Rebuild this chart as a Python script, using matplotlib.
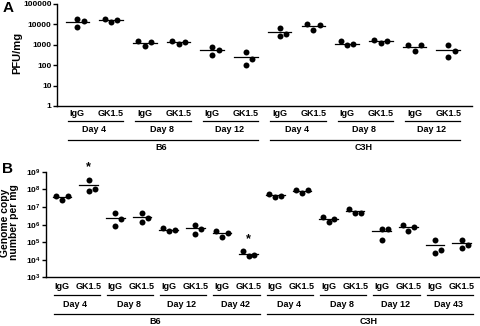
import numpy as np
import matplotlib.pyplot as plt

plt.rcParams['font.family'] = ['Liberation Sans', 'DejaVu Sans']
plt.rcParams['font.weight'] = 'bold'
plt.rcParams['mathtext.fontset'] = 'custom'
plt.rcParams['mathtext.rm'] = 'Liberation Sans:bold'
plt.rcParams['mathtext.bf'] = 'Liberation Sans:bold'
plt.rcParams['mathtext.it'] = 'Liberation Sans:bold'

treatments = ['IgG', 'GK1.5']
strains = ['B6', 'C3H']

# panel A: PFU/mg, 3 mice per group
days_a = {'B6': ['Day 4', 'Day 8', 'Day 12'], 'C3H': ['Day 4', 'Day 8', 'Day 12']}
pfu = [
    [18000, 7800, 15000], [18000, 13000, 16000],   # B6 day 4
    [1500, 900, 1300], [1600, 1050, 1300],         # B6 day 8
    [760, 310, 540], [430, 100, 210],              # B6 day 12
    [6900, 2600, 3200], [10500, 5500, 9100],       # C3H day 4
    [1450, 930, 1050], [1650, 1250, 1600],         # C3H day 8
    [980, 510, 930], [980, 260, 510],              # C3H day 12
]

# panel B: genome copies per mg
days_b = {'B6': ['Day 4', 'Day 8', 'Day 12', 'Day 42'],
          'C3H': ['Day 4', 'Day 8', 'Day 12', 'Day 43']}
copies = [
    [4.3e7, 2.4e7, 4.3e7], [3.4e8, 8.1e7, 1.1e8],  # B6 day 4
    [4.6e6, 8.1e5, 2.0e6], [4.6e6, 1.5e6, 2.3e6],  # B6 day 8
    [6.6e5, 4.1e5, 5.1e5], [9.8e5, 3.0e5, 5.9e5],  # B6 day 12
    [4.3e5, 2.1e5, 3.2e5], [3.1e4, 1.6e4, 2.0e4],  # B6 day 42
    [5.8e7, 3.7e7, 4.1e7], [9.8e7, 6.6e7, 8.9e7],  # C3H day 4
    [2.7e6, 1.5e6, 2.1e6], [8.1e6, 4.8e6, 4.8e6],  # C3H day 8
    [5.9e5, 5.4e5, 1.4e5], [1.0e6, 4.3e5, 7.2e5],  # C3H day 12
    [1.4e5, 2.3e4, 3.8e4], [1.4e5, 4.8e4, 7.1e4],  # C3H day 43
]
signif_b = [1, 7]  # groups marked with *

fig = plt.figure(figsize=(4.8, 3.26), dpi=100)
axA = fig.add_axes([0.119, 0.675, 0.864, 0.313])
axB = fig.add_axes([0.096, 0.149, 0.902, 0.324])


def swarm(ax, xc, vals, step, diam=7.0):
    # simple beeswarm: stack points at center, push colliding ones sideways
    ypx = ax.transData.transform(np.column_stack([np.full(len(vals), xc), vals]))[:, 1]
    slots = {}
    offs = np.zeros(len(vals))
    for i in np.argsort(ypx):
        for k in [0, 1, -1, 2, -2]:
            if all(abs(ypx[i] - ypx[j]) >= diam for j in slots.get(k, [])):
                break
        slots.setdefault(k, []).append(i)
        offs[i] = k
    return xc + offs * step


def draw_panel(ax, data, days, ylim, xmax, step, lo, hi, rows, fmt):
    ax.set_yscale('log')
    ax.set_ylim(*ylim)
    ax.set_xlim(0.4, xmax)
    dec = np.arange(int(np.log10(ylim[0])), int(np.log10(ylim[1])) + 1)
    ax.set_yticks(10.0 ** dec)
    ax.set_yticklabels([fmt(d) for d in dec])
    ax.yaxis.set_minor_locator(plt.NullLocator())
    ax.set_xticks([])
    for s in ['top', 'right']:
        ax.spines[s].set_visible(False)
    for s in ['left', 'bottom']:
        ax.spines[s].set_linewidth(1.0)
    ax.tick_params(axis='y', direction='out', length=3, width=1.0, labelsize=6, pad=1)
    fig.canvas.draw()

    for g, vals in enumerate(data):
        xc = g + 1
        xs = swarm(ax, xc, vals, step)
        ax.plot(xs, vals, 'o', color='k', ms=4.3, mew=0, clip_on=False)
        ax.plot([xc - 0.35, xc + 0.35], [np.mean(vals)] * 2, color='k', lw=0.9)

    tr = ax.get_xaxis_transform()
    kw = dict(transform=tr, ha='center', va='center', fontsize=6.5, fontweight='bold')
    pos = 1
    for strain in strains:
        start = pos
        for day in days[strain]:
            for t, name in enumerate(treatments):
                ax.text(pos + t, rows[0], name, **kw)
            ax.plot([pos - lo, pos + 1 + hi], [rows[1]] * 2, color='k', lw=0.9,
                    transform=tr, clip_on=False)
            ax.text(pos + 0.5, rows[2], day, **kw)
            pos += 2
        ax.plot([start - lo, pos - 1 + hi], [rows[3]] * 2, color='k', lw=0.9,
                transform=tr, clip_on=False)
        ax.text((start + pos - 1) / 2, rows[4], strain, **kw)


draw_panel(axA, pfu, days_a, (1, 1e5), 12.7, 0.19, 0.28, 0.36,
           [-0.075, -0.15, -0.23, -0.33, -0.405], lambda d: str(10 ** d))
draw_panel(axB, copies, days_b, (1e3, 1e9), 16.65, 0.22, 0.32, 0.42,
           [-0.085, -0.17, -0.255, -0.348, -0.422],
           lambda d: r'$\mathbf{10^{%d}}$' % d)

for g in signif_b:
    axB.annotate('*', (g + 1, max(copies[g])), xytext=(0, 9), textcoords='offset points',
                 ha='center', va='center', fontsize=9, fontweight='bold', annotation_clip=False)

axA.set_ylabel('PFU/mg', fontsize=8, fontweight='bold')
axA.yaxis.set_label_coords(-0.084, 0.52)
axB.set_ylabel('Genome copy\nnumber per mg', fontsize=7.5, fontweight='bold', linespacing=0.95)
axB.yaxis.set_label_coords(-0.062, 0.52)

fig.text(0.005, 0.975, 'A', fontsize=11, fontweight='bold', va='center')
fig.text(0.005, 0.482, 'B', fontsize=11, fontweight='bold', va='center')

fig.savefig('out.png', dpi=100)
